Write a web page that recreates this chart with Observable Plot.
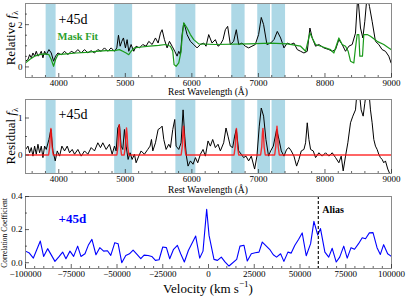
<!DOCTYPE html>
<html><head><meta charset="utf-8">
<script src="https://cdn.jsdelivr.net/npm/d3@7"></script>
<script src="https://cdn.jsdelivr.net/npm/@observablehq/plot@0.6"></script>
<style>
body{margin:0;background:#fff;}
#wrap{position:relative;width:407px;height:298px;overflow:hidden;font-family:"Liberation Serif",serif;}
.p{position:absolute;left:0;}
.p svg{overflow:visible;}
.p svg text{font-family:"Liberation Serif",serif;}
.lbl{position:absolute;white-space:nowrap;transform:translate(-50%,-50%);color:#000;line-height:1;}
.rot{transform:translate(-50%,-50%) rotate(-90deg);}
sub,sup{font-size:70%;line-height:0;}
</style></head><body><div id="wrap"></div>
<script>
// ---------- data ----------
const bandStart = [3810, 4840, 5760, 6600, 6990, 7205];
const bandEnd   = [3960, 5110, 6060, 6800, 7182, 7408];

const specWave = [3502,3537,3562,3587,3612,3637,3662,3687,3712,3737,3762,3787,3812,3852,3887,3922,3952,3987,4037,4087,4137,4187,4237,4287,4337,4387,4437,4487,4537,4587,4637,4687,4737,4787,4837,4872,4897,4922,4947,4972,5002,5027,5052,5087,5127,5162,5212,5262,5312,5353,5403,5453,5493,5528,5553,5588,5628,5663,5703,5743,5778,5803,5828,5853,5878,5903,5928,5978,6028,6078,6128,6178,6213,6253,6303,6353,6393,6428,6468,6503,6538,6578,6628,6668,6703,6753,6803,6853,6903,6953,7003,7043,7078,7128,7184,7234,7284,7334,7384,7434,7484,7534,7584,7634,7684,7734,7774,7809,7859,7909,7984,8059,8109,8159,8209,8259,8309,8359,8409,8459,8494,8534,8569,8599,8634,8669,8709,8759,8809,8859,8909,8959,8994];
const specFlux = [0.27,0.35,0.58,0.43,0.66,0.51,0.74,0.51,0.58,0.74,0.43,0.74,0.58,0.82,0.66,0.27,0.51,0.66,0.58,0.74,0.58,0.74,0.66,0.82,0.66,0.82,0.66,0.77,0.66,0.82,0.74,0.90,0.74,0.90,0.74,0.90,1.50,0.98,1.21,1.37,0.90,1.29,0.74,1.06,0.74,0.98,0.90,1.06,0.98,1.21,1.06,1.37,1.13,1.60,1.76,1.29,0.90,1.21,0.98,0.74,0.51,0.74,0.58,1.53,2.08,1.84,1.53,1.21,1.06,0.90,1.06,1.13,0.98,1.53,1.13,1.29,0.98,1.06,1.29,1.76,1.92,1.06,1.21,1.76,1.06,1.13,0.98,0.90,0.98,1.06,1.53,2.34,2.00,1.06,1.13,1.29,1.68,1.37,0.90,1.13,1.06,1.13,0.82,0.74,0.66,0.74,1.84,1.37,0.98,1.06,0.90,0.82,0.74,0.82,1.29,1.06,0.74,0.98,1.06,1.60,3.40,1.84,1.37,2.16,3.40,2.86,2.16,1.21,1.06,0.82,0.74,0.51,0.19];

const fitWave = [3502,3562,3637,3712,3787,3852,3887,3922,3952,3987,4112,4262,4412,4562,4712,4837,4912,4962,5012,5052,5087,5137,5212,5362,5503,5603,5678,5713,5733,5763,5803,5838,5853,5878,5928,5978,6028,6103,6353,6853,7184,7434,7634,7709,7744,7774,7809,7859,7984,8084,8134,8184,8209,8259,8309,8349,8384,8434,8459,8484,8509,8524,8564,8584,8634,8684,8784,8884,8959,8994];
const fitFlux = [0.19,0.35,0.51,0.58,0.62,0.58,0.35,0.03,0.35,0.58,0.62,0.66,0.69,0.74,0.77,0.77,0.82,0.74,0.66,0.58,0.74,0.90,0.93,0.98,1.02,1.06,0.98,0.74,0.11,0.03,0.19,0.74,1.37,2.08,1.84,1.53,1.29,1.09,1.06,1.09,1.13,1.09,0.98,0.74,1.21,1.60,1.37,1.06,0.93,0.82,0.66,1.13,1.37,1.06,0.98,0.74,0.27,0.19,0.90,1.53,1.53,0.51,0.51,1.53,1.53,1.45,1.21,1.06,0.90,0.82];

const resWave = [3502,3537,3562,3587,3612,3637,3662,3687,3712,3737,3762,3787,3812,3852,3882,3912,3947,3977,4012,4047,4087,4127,4162,4202,4237,4287,4337,4387,4437,4487,4537,4587,4627,4662,4712,4762,4802,4837,4862,4887,4912,4937,4962,4987,5012,5042,5072,5102,5137,5162,5202,5237,5287,5337,5372,5393,5413,5453,5493,5528,5553,5578,5613,5653,5678,5713,5743,5763,5803,5838,5868,5893,5918,5943,5978,6018,6053,6088,6128,6168,6203,6243,6278,6313,6353,6393,6428,6478,6513,6543,6578,6613,6643,6668,6703,6743,6778,6813,6853,6893,6943,6978,7013,7043,7078,7113,7153,7184,7224,7274,7309,7344,7384,7424,7459,7494,7534,7574,7609,7644,7684,7709,7734,7759,7784,7824,7859,7909,7959,8009,8059,8109,8159,8209,8244,8274,8309,8344,8384,8419,8459,8484,8514,8544,8574,8599,8624,8659,8684,8709,8734,8759,8784,8809,8834,8859,8884,8909,8944,8984];
const resFlux = [0.15,0.24,0.06,0.20,-0.03,0.24,0.02,0.29,0.06,0.24,-0.07,0.24,0.15,0.42,0.69,0.11,-0.16,0.11,-0.03,0.24,0.11,0.24,0.06,0.15,0.02,0.15,-0.03,0.11,0.02,0.20,0.11,0.33,0.20,0.33,0.15,0.29,0.02,0.24,0.11,0.73,0.82,0.24,0.15,0.69,0.24,-0.12,0.06,-0.12,0.02,-0.21,-0.03,0.11,0.02,0.15,0.24,0.42,0.11,0.33,0.69,0.73,0.78,0.42,0.15,0.29,0.20,0.69,0.96,0.24,0.15,0.33,1.22,0.51,-0.03,-0.30,-0.16,-0.25,-0.07,-0.21,0.02,0.15,-0.03,0.38,0.24,0.42,0.20,0.29,0.11,0.33,0.73,0.51,0.24,0.20,0.51,0.69,0.11,0.02,-0.07,-0.03,-0.16,-0.03,-0.38,-0.03,0.78,1.27,1.05,0.42,-0.03,0.11,0.24,0.69,0.42,0.11,-0.03,0.15,0.20,0.11,-0.03,-0.30,-0.12,0.11,0.15,0.33,0.87,0.42,0.15,0.11,-0.07,0.06,-0.03,0.06,-0.03,0.06,-0.07,-0.21,-0.03,-0.43,-0.03,0.33,0.87,1.05,1.22,1.75,1.75,1.22,1.05,1.40,1.75,1.75,1.22,0.87,0.42,0.24,0.15,0.02,-0.07,-0.12,-0.21,-0.16,-0.38,-0.55];

const lineWave = [3500,3847,3864,3874,3882,3890,3900,3917,4873,4890,4900,4908,4916,4926,4943,4983,5000,5010,5018,5026,5036,5053,5839,5856,5866,5874,5882,5892,5909,6634,6651,6661,6669,6677,6687,6704,7033,7050,7060,7068,7076,7086,7103,7244,7261,7271,7279,7287,7297,7314,9000];
const lineFlux = [0,0,0.22,0.58,0.72,0.58,0.22,0,0,0.25,0.66,0.82,0.66,0.25,0,0,0.22,0.58,0.73,0.58,0.22,0,0,0.23,0.62,0.78,0.62,0.23,0,0,0.22,0.58,0.72,0.58,0.22,0,0,0.22,0.58,0.72,0.58,0.22,0,0,0.23,0.62,0.78,0.62,0.23,0,0];

const velocity = [-100000,-97900,-95700,-91900,-90100,-87900,-83900,-81800,-79700,-77900,-75700,-73700,-71500,-69700,-67500,-65700,-63700,-61500,-59400,-57300,-55200,-53400,-51200,-49400,-47400,-45200,-43200,-41200,-39200,-37000,-35200,-33000,-31000,-29000,-27000,-25000,-23000,-21200,-19100,-17000,-15200,-13200,-11000,-9000,-7000,-4800,-3000,-1000,300,3000,4900,7000,9000,11200,15400,17200,19400,21200,23400,25500,27600,29400,33400,35400,37200,39400,41200,43400,45200,47200,49200,51200,53400,55800,57600,59700,61200,63600,65700,67600,69800,71700,73900,75800,77900,79800,82000,84000,85800,87900,89900,92100,93900,95700,97900,100000];
const correlation = [0.07,0.058,0.028,0.131,0.038,0.085,0.008,0.035,0.064,0.024,0.07,0.038,0.10,0.038,0.054,0.105,0.141,0.048,0.091,0.07,0.072,0.044,0.121,0.115,0.0,0.044,0.054,0.076,0.052,0.024,0.046,0.044,0.038,0.014,0.018,0.095,0.091,0.024,0.081,0.105,0.054,0.004,0.074,0.118,0.161,0.028,0.07,0.323,0.165,0.02,0.014,0.034,0.005,-0.02,0.02,0.10,0.105,0.01,0.054,0.06,0.064,0.125,0.081,0.048,0.034,0.054,0.008,0.064,0.058,0.105,0.14,0.18,0.042,0.115,0.25,0.167,0.206,0.064,0.034,0.087,0.004,0.034,0.10,0.028,0.091,0.081,0.115,0.151,0.145,0.18,0.182,0.091,0.05,0.109,0.054,0.038];
const aliasVelocity = 60000;

const waveMajor = [4000,5000,6000,7000,8000,9000];
const waveMinor = [3600,3800,4200,4400,4600,4800,5200,5400,5600,5800,6200,6400,6600,6800,7200,7400,7600,7800,8200,8400,8600,8800];
const relMajor = [0, 2];
const relMinor = [0.5, 1, 1.5, 2.5];
const resMajor = [0, 1];
const resMinor = [0.5];
const velMajor = [-100000,-75000,-50000,-25000,0,25000,50000,75000,100000];
const velMinor = [-95000,-90000,-85000,-80000,-70000,-65000,-60000,-55000,-45000,-40000,-35000,-30000,-20000,-15000,-10000,-5000,5000,10000,15000,20000,30000,35000,40000,45000,55000,60000,65000,70000,80000,85000,90000,95000];
const corrMajor = [0, 0.2, 0.4];
const corrMinor = [0.1, 0.3];

const panelLabel = "+45d";

// ---------- helpers ----------
const W = 407, ML = 25, MR = 16;
const FF = "'Liberation Serif', serif";
const bands = bandStart.map((s, i) => ({s, e: bandEnd[i]}));
const zip = (xs, ys) => xs.map((x, i) => ({x, y: ys[i]}));

function frameTicks(ph, pw, xMaj, xMin, yMaj, yMin) {
  const tk = {stroke: "#222", strokeWidth: 0.7};
  return [
    Plot.tickX(xMaj, {x: d => d, insetTop: ph - 4, ...tk}),
    Plot.tickX(xMin, {x: d => d, insetTop: ph - 2, ...tk}),
    Plot.tickY(yMaj, {y: d => d, insetRight: pw - 4, ...tk}),
    Plot.tickY(yMin, {y: d => d, insetRight: pw - 2, ...tk})
  ];
}
const minus = d => d < 0 ? "\u2212" + Math.abs(d) : String(d);

function makePanel(top, height, mt, mb, xDom, yDom, marks, xMaj, xMin, yMaj, yMin, xFmt, yFmt) {
  const ph = height - mt - mb, pw = W - ML - MR;
  const svg = Plot.plot({
    width: W, height, marginLeft: ML, marginRight: MR, marginTop: mt, marginBottom: mb,
    x: {domain: xDom}, y: {domain: yDom},
    style: {fontFamily: FF, fontSize: "9px", background: "transparent", color: "#000", overflow: "visible"},
    marks: [
      ...marks,
      Plot.frame({stroke: "#8a8a8a", strokeWidth: 1}),
      ...frameTicks(ph, pw, xMaj, xMin, yMaj, yMin),
      Plot.axisX({ticks: xMaj, tickSize: 0, tickPadding: 2, tickFormat: xFmt, label: null, fontFamily: FF, fontSize: 9}),
      Plot.axisY({ticks: yMaj, tickSize: 0, tickPadding: 3, tickFormat: yFmt, label: null, fontFamily: FF, fontSize: 9})
    ]
  });
  const d = document.createElement("div");
  d.className = "p"; d.style.top = top + "px";
  d.appendChild(svg);
  document.getElementById("wrap").appendChild(d);
}

// ---------- panel 1 ----------
const yd1 = [-0.5, 3];
makePanel(0, 95, 3, 18, [3500, 9000], yd1, [
  Plot.rect(bands, {x1: "s", x2: "e", y1: () => yd1[0], y2: () => yd1[1], fill: "#add8e6"}),
  Plot.line(zip(specWave, specFlux), {x: "x", y: "y", stroke: "#000", strokeWidth: 1, clip: true}),
  Plot.line(zip(fitWave, fitFlux), {x: "x", y: "y", stroke: "#1a9a1a", strokeWidth: 1.2, clip: true}),
  Plot.text([panelLabel], {frameAnchor: "top-left", dx: 33, dy: 11, textAnchor: "start", lineAnchor: "top", fontSize: 14, fontFamily: FF, fill: "#000", style: "letter-spacing:1px"}),
  Plot.text(["Mask Fit"], {frameAnchor: "top-left", dx: 32, dy: 29, textAnchor: "start", lineAnchor: "top", fontSize: 10.5, fontFamily: FF, fontWeight: "bold", fill: "#2ca02c"})
], waveMajor, waveMinor, relMajor, relMinor, d => String(d), d => String(d));

// ---------- panel 2 ----------
const yd2 = [-0.5, 1.5];
makePanel(95, 98, 4, 20, [3500, 9000], yd2, [
  Plot.rect(bands, {x1: "s", x2: "e", y1: () => yd2[0], y2: () => yd2[1], fill: "#add8e6"}),
  Plot.line(zip(resWave, resFlux), {x: "x", y: "y", stroke: "#000", strokeWidth: 1, clip: true}),
  Plot.line(zip(lineWave, lineFlux), {x: "x", y: "y", stroke: "#ff1010", strokeOpacity: 0.85, strokeWidth: 1.4, clip: true}),
  Plot.text([panelLabel], {frameAnchor: "top-left", dx: 33, dy: 10, textAnchor: "start", lineAnchor: "top", fontSize: 14, fontFamily: FF, fill: "#000", style: "letter-spacing:1px"})
], waveMajor, waveMinor, resMajor, resMinor, d => String(d), d => String(d));

// ---------- panel 3 ----------
const yd3 = [-0.035, 0.4];
makePanel(193, 105, 3, 30, [-100000, 100000], yd3, [
  Plot.line(zip(velocity, correlation), {x: "x", y: "y", stroke: "#0000ff", strokeWidth: 1.1, clip: true}),
  Plot.ruleX([aliasVelocity], {x: d => d, stroke: "#000", strokeWidth: 1.1, strokeDasharray: "3,2"}),
  Plot.text(["Alias"], {x: () => aliasVelocity, frameAnchor: "top", dx: 4, dy: 9, textAnchor: "start", lineAnchor: "top", fontSize: 10, fontFamily: FF, fontWeight: "bold", fill: "#000"}),
  Plot.text([panelLabel], {frameAnchor: "top-left", dx: 33, dy: 17, textAnchor: "start", lineAnchor: "top", fontSize: 13, fontFamily: FF, fontWeight: "bold", fill: "#0000ff", style: "letter-spacing:1px"})
], velMajor, velMinor, corrMajor, corrMinor, minus, d => d.toFixed(1));

// ---------- titles ----------
const wrap = document.getElementById("wrap");
function label(html, x, y, size, rot) {
  const d = document.createElement("div");
  d.className = "lbl" + (rot ? " rot" : "");
  d.style.left = x + "px"; d.style.top = y + "px"; d.style.fontSize = size + "px";
  d.innerHTML = html;
  wrap.appendChild(d);
}
label("Relative <i>f</i><sub>λ</sub>", 10, 38, 13, true);
label("Residual <i>f</i><sub>λ</sub>", 10, 136, 13, true);
label("Correlation Coefficient", 5, 233, 7.5, true);
label("Rest Wavelength (Å)", 208, 93, 9.5, false);
label("Rest Wavelength (Å)", 208, 191, 9.5, false);
label("Velocity (km s<sup>−1</sup>)", 208, 288, 13, false);
</script></body></html>
